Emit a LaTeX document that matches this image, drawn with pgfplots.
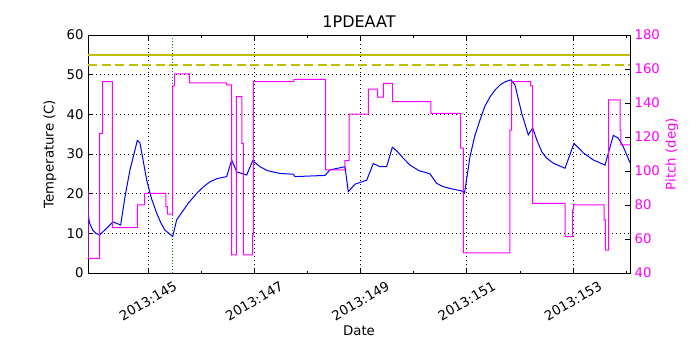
\documentclass[border=0pt]{standalone}
\usepackage{pgfplots}
\pgfplotsset{compat=1.18}
\usepackage{fontspec}
\setmainfont{DejaVu Sans}
\definecolor{mplyellow}{rgb}{0.75,0.75,0}
\definecolor{mplgreen}{rgb}{0,0.5,0}
\definecolor{mplmagenta}{rgb}{1,0,1}

\newcommand{\lblfont}{\fontsize{13.3}{16}\selectfont}

\pgfplotsset{
  common/.style={
    scale only axis, width=542pt, height=238pt,
    xmin=143.871, xmax=154.073,
    tick align=inside,
    major tick length=5pt, minor tick length=2.5pt,
    tick style={black, line width=0.6pt},
    axis line style={line width=0.8pt},
    /pgf/number format/assume math mode=true,
    ticklabel style={font=\lblfont},
  }
}

\begin{document}
\begin{tikzpicture}
\path[use as bounding box] (-88pt,-77pt) rectangle (612pt,273pt);

% temperature, left axis
\begin{axis}[common,
  ymin=0, ymax=60,
  xtick={145,147,149,151,153},
  xticklabels={2013:145,2013:147,2013:149,2013:151,2013:153},
  minor xtick={146,148,150,152,154},
  ytick={0,10,...,60},
  ytick pos=left,
  xmajorgrids, ymajorgrids,
  grid style={black, line width=0.5pt, dash pattern=on 1pt off 3pt},
  xticklabel style={rotate=30, anchor=center},
  xticklabel shift=28pt,
  yticklabel style={xshift=-1pt},
  xlabel={Date}, ylabel={Temperature (C)},
  every axis x label/.style={at={(axis description cs:0.5,0)}, yshift=-58pt, anchor=center, font=\lblfont},
  every axis y label/.style={at={(axis description cs:0,0.5)}, xshift=-38pt, rotate=90, anchor=center, font=\lblfont},
  title={1PDEAAT},
  every axis title/.style={at={(axis description cs:0.5,1)}, anchor=center, yshift=13pt, font=\fontsize{16}{19}\selectfont},
]
\addplot[mplyellow, line width=2pt] coordinates {(143.871,55) (154.073,55)};
\addplot[mplyellow, line width=2pt, dash pattern=on 9pt off 4.5pt] coordinates {(143.871,52.5) (154.073,52.5)};
\addplot[mplgreen, line width=0.8pt, dash pattern=on 1pt off 2pt] coordinates {(145.465,0) (145.465,60)};
\addplot[blue, line width=1pt] coordinates {
(143.871,15.1) (143.90,12.6) (143.96,10.8) (144.02,10.0) (144.09,9.6) (144.2,11.0)
(144.341,12.9) (144.486,12.1) (144.567,19.2) (144.661,26) (144.799,33.4) (144.849,32.8)
(144.976,23.4) (145.07,18.6) (145.164,15.1) (145.24,12.7) (145.320,10.8) (145.465,9.2)
(145.540,13.4) (145.759,17.6) (145.917,20.1) (146.05,21.8) (146.167,23) (146.3,23.8)
(146.481,24.3) (146.576,28.5) (146.670,25.5) (146.858,24.7) (146.971,28.3) (147.108,26.8)
(147.25,25.8) (147.485,25.1) (147.735,24.9) (147.767,24.3) (148.332,24.6) (148.426,26)
(148.708,26.8) (148.770,20.5) (148.897,22.4) (149.117,23.4) (149.241,27.6) (149.367,26.8)
(149.493,26.8) (149.599,31.7) (149.682,30.8) (149.8,29) (149.932,27.2) (150.1,25.8)
(150.308,25) (150.434,22.6) (150.55,21.8) (150.685,21.3) (150.905,20.7) (150.954,20.1)
(150.967,20.9) (151.061,29.3) (151.15,34.5) (151.250,38.6) (151.34,42) (151.438,44.4)
(151.53,46.1) (151.626,47.4) (151.72,48.2) (151.833,48.7) (151.908,47.4) (152.034,40.3)
(152.159,34.8) (152.241,36.6) (152.32,33.5) (152.411,30.6) (152.5,29) (152.629,27.7)
(152.850,26.4) (153.019,32.7) (153.194,30.3) (153.382,28.5) (153.602,27.2) (153.759,34.7)
(153.853,34) (153.947,31.8) (154.073,27.8)
};
\end{axis}

% pitch, right axis
\begin{axis}[common,
  ymin=40, ymax=180,
  axis x line=none, axis y line*=right,
  ytick={40,60,...,180},
  yticklabel style={mplmagenta, xshift=1pt},
  ylabel={Pitch (deg)},
  every axis y label/.style={at={(axis description cs:1,0.5)}, xshift=42pt, rotate=90, anchor=center, mplmagenta, font=\lblfont},
]
\addplot[mplmagenta, line width=1pt] coordinates {
(143.871,88.4) (143.875,48.6) (144.091,48.6) (144.091,122.2) (144.147,122.2) (144.147,152.5)
(144.328,152.5) (144.328,66.7) (144.799,66.7) (144.799,80) (144.938,80) (144.938,86.9)
(145.339,86.9) (145.339,79) (145.363,79) (145.363,74.7) (145.465,74.7) (145.465,150)
(145.50,150) (145.50,157.1) (145.777,157.1) (145.777,151.9) (146.481,151.9) (146.481,150.6)
(146.576,150.6) (146.576,50.6) (146.666,50.6) (146.666,143.7) (146.769,143.7) (146.769,116.3)
(146.794,116.3) (146.794,50.6) (146.971,50.6) (146.971,62.4) (146.982,62.4) (146.982,152.5)
(147.748,152.5) (147.748,153.9) (148.345,153.9) (148.345,100.6) (148.708,100.6) (148.708,106.1)
(148.784,106.1) (148.784,133.5) (149.147,133.5) (149.147,148.1) (149.324,148.1) (149.324,143.4)
(149.429,143.4) (149.429,151.6) (149.606,151.6) (149.606,140.8) (150.327,140.8) (150.327,133.9)
(150.886,133.9) (150.886,113.4) (150.935,113.4) (150.935,51.9) (151.814,51.9) (151.814,124.1)
(151.846,124.1) (151.846,152.5) (152.20,152.5) (152.20,150) (152.241,150) (152.241,81)
(152.850,81) (152.850,61.4) (152.995,61.4) (152.995,77.1) (153.01,77.1) (153.01,80)
(153.584,80) (153.584,71.2) (153.608,71.2) (153.608,53.5) (153.672,53.5) (153.672,141.8)
(153.885,141.8) (153.885,124.1) (153.90,124.1) (153.90,115.3) (154.073,115.3)
};
\end{axis}
\end{tikzpicture}
\end{document}
